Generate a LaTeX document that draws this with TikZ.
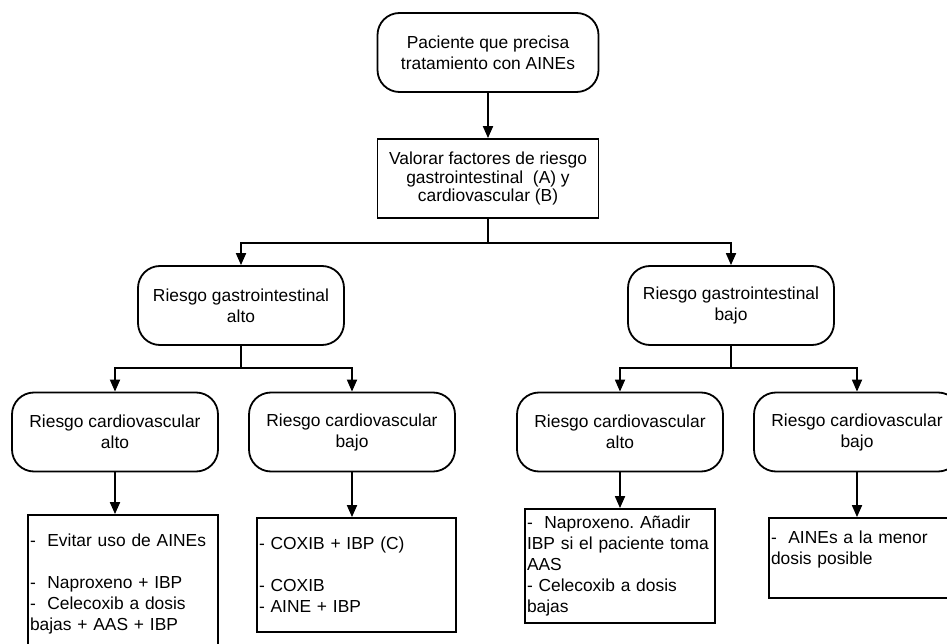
\documentclass[tikz,border=0pt]{standalone}
\usepackage{fontspec}
\setmainfont{Liberation Sans}
\usetikzlibrary{arrows.meta}

\begin{document}
\frenchspacing
\begin{tikzpicture}
[x=1pt,y=-1pt,line width=1.8pt,
 font=\fontsize{17.4}{21}\selectfont,
 rbox/.style={draw,rounded corners=22pt,minimum width=206pt,minimum height=79pt,align=center},
 sbox/.style={draw,minimum width=221pt,minimum height=79pt,align=center},
 tbox/.style={draw,align=left,inner sep=2pt},
 arr/.style={-{Triangle[length=12pt,width=10pt]}}]
\useasboundingbox (0,0) rectangle (947,644);
\clip (0,0) rectangle (947,644);
% top of the tree
\node[rbox,minimum width=221pt] (paciente) at (488,52.5) {Paciente que precisa\\tratamiento con AINEs};
\node[sbox,font=\fontsize{17.4}{18.5}\selectfont] (valorar) at (488,178.5) {Valorar factores de riesgo\\gastrointestinal~ (A) y\\cardiovascular (B)};
\node[rbox] (gia) at (241,305.5) {Riesgo gastrointestinal\\alto};
\node[rbox] (gib) at (731,305.5) {Riesgo gastrointestinal\\bajo};
\node[rbox] (cva1) at (115,432) {Riesgo cardiovascular\\alto};
\node[rbox] (cvb1) at (352,432) {Riesgo cardiovascular\\bajo};
\node[rbox] (cva2) at (620,432) {Riesgo cardiovascular\\alto};
\node[rbox] (cvb2) at (857,432) {Riesgo cardiovascular\\bajo};
% what to give
\node[tbox,text width=186pt,minimum height=137pt] (r1) at (123,583.5) {-~ Evitar uso de AINEs\\[21pt]-~ Naproxeno + IBP\\-~ Celecoxib a dosis\\bajas + AAS + IBP};
\node[tbox,text width=195pt,minimum height=114pt] (r2) at (356.5,575) {- COXIB + IBP (C)\\[21pt]- COXIB\\- AINE + IBP};
\node[tbox,text width=186pt,minimum height=114pt] (r3) at (620,566) {-~ Naproxeno. Añadir\\IBP si el paciente toma\\AAS\\- Celecoxib a dosis\\bajas};
\node[tbox,text width=187pt,minimum height=80pt] (r4) at (864.5,558) {-~ AINEs a la menor\\dosis posible\\~};
\coordinate (split0) at (488,243);
\coordinate (split1) at (241,368);
\coordinate (split2) at (731,368);
\draw[arr] (paciente) -- (valorar);
\draw (valorar) -- (split0);
\foreach \n in {gia,gib} \draw[arr] (split0) -| (\n);
\draw (gia) -- (split1);
\draw (gib) -- (split2);
\foreach \n in {cva1,cvb1} \draw[arr] (split1) -| (\n);
\foreach \n in {cva2,cvb2} \draw[arr] (split2) -| (\n);
\draw[arr] (cva1) -- (cva1 |- r1.north);
\draw[arr] (cvb1) -- (cvb1 |- r2.north);
\draw[arr] (cva2) -- (cva2 |- r3.north);
\draw[arr] (cvb2) -- (cvb2 |- r4.north);
\end{tikzpicture}
\end{document}
